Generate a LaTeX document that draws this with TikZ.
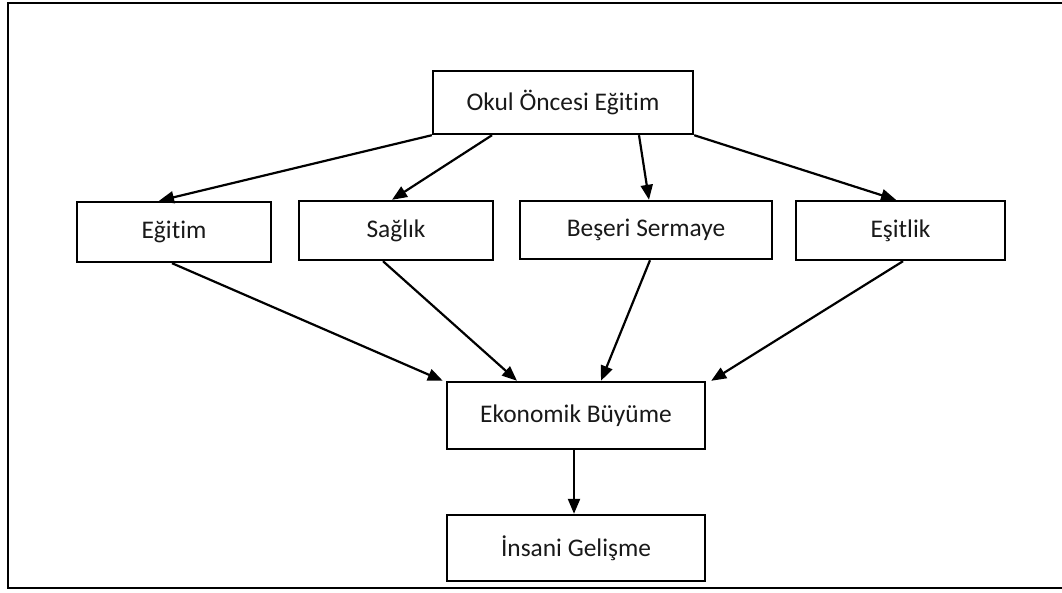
\documentclass[tikz,border=0pt]{standalone}
\usepackage{fontspec}
\setmainfont{Carlito}[Ligatures=NoCommon]
\usetikzlibrary{arrows.meta}
\begin{document}
\begin{tikzpicture}[x=1pt,y=-1pt,
  box/.style={draw=black,line width=2.4pt,fill=white,inner sep=0pt,
    font=\fontsize{25.4}{30}\selectfont,text=black!90},
  conn/.style={line width=2.2pt,-{Triangle[length=15pt,width=12pt]}}]
\useasboundingbox (0,0) rectangle (1062,592);
\draw[line width=2pt] (1062,3) -- (8,3) -- (8,588) -- (1062,588);
\node[box,minimum width=260pt,minimum height=63pt] (okul) at (563,102.5) {Okul Öncesi Eğitim};
\node[box,minimum width=194pt,minimum height=60pt] (egitim) at (174,232) {Eğitim};
\node[box,minimum width=194pt,minimum height=59pt] (saglik) at (396,230.5) {Sağlık};
\node[box,minimum width=252pt,minimum height=58pt] (beseri) at (646,230) {Beşeri Sermaye};
\node[box,minimum width=209pt,minimum height=59pt] (esitlik) at (900.5,230.5) {Eşitlik};
\node[box,minimum width=258pt,minimum height=67pt] (ekonomik) at (576,415.5) {Ekonomik Büyüme};
\node[box,minimum width=258pt,minimum height=66pt] (insani) at (576,548) {İnsani Gelişme};
\draw[conn] (okul.south west) -- ([xshift=-15pt]egitim.north);
\draw[conn] ([xshift=-71pt]okul.south) -- ([xshift=-4pt]saglik.north);
\draw[conn] ([xshift=76pt]okul.south) -- ([xshift=3pt]beseri.north);
\draw[conn] (okul.south east) -- ([xshift=-4.5pt]esitlik.north);
\draw[conn] ([xshift=-2pt]egitim.south) -- ([xshift=-3pt]ekonomik.north west);
\draw[conn] ([xshift=-13pt]saglik.south) -- ([xshift=-59pt]ekonomik.north);
\draw[conn] ([xshift=4pt]beseri.south) -- ([xshift=25pt]ekonomik.north);
\draw[conn] ([xshift=2.5pt]esitlik.south) -- ([xshift=5pt]ekonomik.north east);
\draw[conn] ([xshift=-2pt]ekonomik.south) -- ([xshift=-2pt]insani.north);
\end{tikzpicture}
\end{document}
